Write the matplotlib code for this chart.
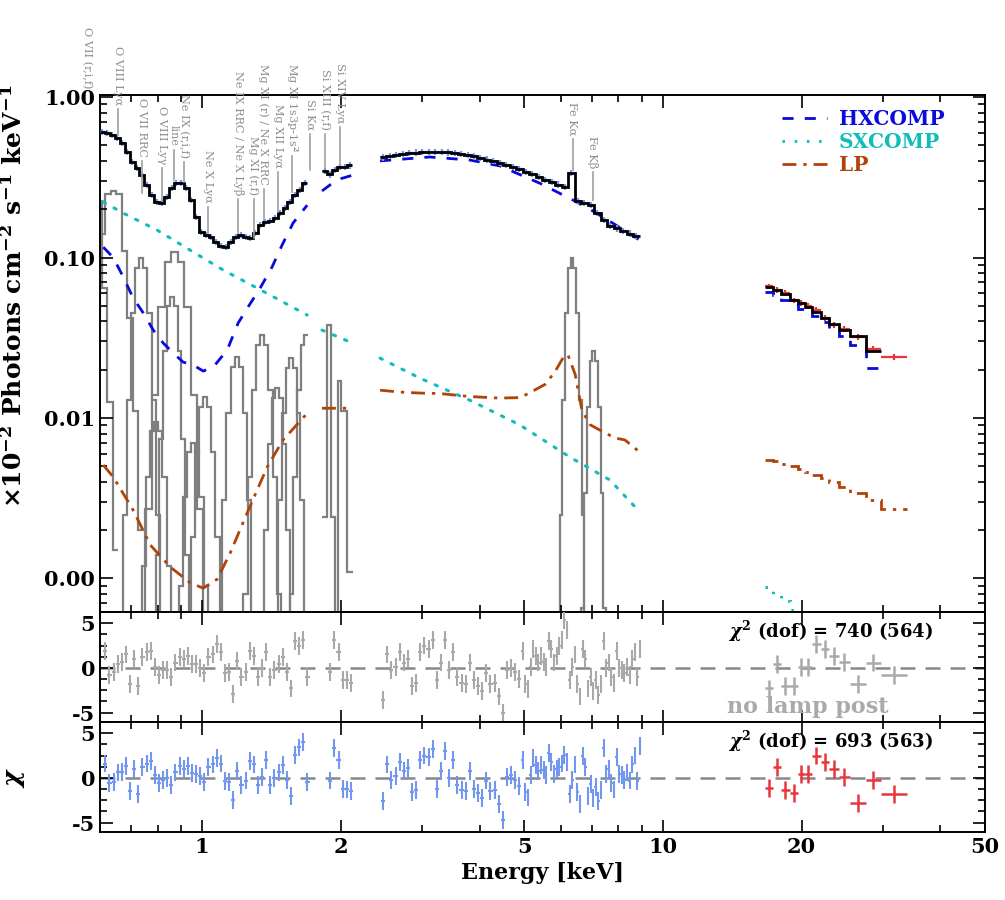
import numpy as np
import matplotlib.pyplot as plt
import matplotlib.transforms as mtransforms
from matplotlib.lines import Line2D
from matplotlib.ticker import (FixedLocator, FormatStrFormatter, LogLocator,
                               NullFormatter, MultipleLocator)

plt.rcParams['font.family'] = 'DejaVu Serif'
plt.rcParams['font.weight'] = 'bold'
plt.rcParams['axes.labelweight'] = 'bold'
plt.rcParams['mathtext.fontset'] = 'custom'
plt.rcParams['mathtext.rm'] = 'DejaVu Serif:bold'
plt.rcParams['mathtext.it'] = 'DejaVu Serif:italic:bold'
plt.rcParams['mathtext.bf'] = 'DejaVu Serif:bold'
plt.rcParams['axes.unicode_minus'] = False
plt.rcParams['axes.linewidth'] = 1.4

nan = np.nan

# --- total model (black histogram), keV bins
soft_edges = np.geomspace(0.6, 1.69, 43)
soft_model = [0.605, 0.597, 0.580, 0.556, 0.517, 0.454, 0.394, 0.361, 0.327, 0.283,
              0.245, 0.222, 0.219, 0.238, 0.271, 0.291, 0.291, 0.271, 0.228, 0.179,
              0.144, 0.138, 0.134, 0.125, 0.118, 0.116, 0.125, 0.134, 0.138, 0.134,
              0.132, 0.142, 0.159, 0.166, 0.169, 0.176, 0.189, 0.203, 0.222, 0.245,
              0.263, 0.291]
si_edges = np.geomspace(1.82, 2.115, 7)
si_model = [0.345, 0.330, 0.350, 0.366, 0.366, 0.375]
fe_edges = np.geomspace(2.43, 8.9, 41)
fe_model = [0.420, 0.428, 0.435, 0.442, 0.447, 0.451, 0.454, 0.456, 0.456, 0.455,
            0.452, 0.448, 0.442, 0.435, 0.427, 0.418, 0.408, 0.398, 0.388, 0.377,
            0.366, 0.355, 0.343, 0.331, 0.318, 0.305, 0.297, 0.285, 0.275, 0.336,
            0.225, 0.218, 0.212, 0.190, 0.172, 0.158, 0.152, 0.146, 0.141, 0.136]
hard_edges = [16.64, 17.32, 18.03, 18.86, 19.63, 20.32, 21.05, 22.01, 22.91, 24.09,
              25.45, 27.56, 29.71, 33.83]
hard_model = [0.0655, 0.0627, 0.059, 0.0545, 0.052, 0.049, 0.0458, 0.042, 0.0385,
              0.0353, 0.0323, 0.0263]
hard_data = [0.066, 0.063, 0.060, 0.054, 0.052, 0.050, 0.047, 0.042, 0.038, 0.036,
             0.032, 0.027, 0.024]

# --- model components
hx_e = [0.61, 0.641, 0.674, 0.708, 0.745, 0.783, 0.823, 0.865, 0.909, 0.956, 1.005,
        1.056, 1.133, 1.197, 1.258, 1.336, 1.418, 1.491, 1.575, 1.69, nan,
        1.82, 1.9, 2.0, 2.115, nan,
        2.433, 3.12, 3.81, 4.43, 5.41, 6.38, 6.94, 7.75, 8.92]
hx_v = [0.116, 0.100, 0.0756, 0.056, 0.0451, 0.0353, 0.0293, 0.0254, 0.0223, 0.0214,
        0.0196, 0.0207, 0.0265, 0.0391, 0.0492, 0.0645, 0.0873, 0.1197, 0.164, 0.212, nan,
        0.26, 0.285, 0.31, 0.325, nan,
        0.40, 0.423, 0.405, 0.372, 0.29, 0.228, 0.20, 0.165, 0.128]
hx_hard = [0.061, 0.058, 0.0545, 0.0506, 0.048, 0.0458, 0.043, 0.0397, 0.0365,
           0.0323, 0.0285, 0.0206]

sx_e = [0.61, 0.674, 0.799, 0.942, 1.11, 1.316, 1.69, nan, 1.82, 2.115, nan,
        2.433, 2.97, 3.81, 4.90, 6.28, 7.67, 8.83]
sx_v = [0.222, 0.189, 0.148, 0.111, 0.0836, 0.0645, 0.0438, nan, 0.0353, 0.0294, nan,
        0.0236, 0.0177, 0.0129, 0.00903, 0.00571, 0.00411, 0.00267]
sx_hard = [0.00088, 0.0008, 0.00072, 0.00064, 0.00057, 0.00052, 0.00047, 0.00042,
           0.00037, 0.00032, 0.00027, 0.00022, 0.00017]

lp_e = [0.61, 0.641, 0.708, 0.771, 0.852, 0.942, 1.005, 1.078, 1.15, 1.252, 1.384,
        1.498, 1.69, nan, 1.82, 2.115, nan,
        2.433, 2.69, 2.97, 3.28, 3.81, 4.43, 4.90, 5.15, 5.55, 5.83, 6.07, 6.22,
        6.45, 6.67, 6.94, 7.30, 7.87, 8.27, 8.92]
lp_v = [0.00509, 0.00429, 0.00267, 0.00162, 0.00118, 0.00094, 0.00087, 0.00099,
        0.00144, 0.00256, 0.00495, 0.0073, 0.0107, nan, 0.0115, 0.0115, nan,
        0.0149, 0.0145, 0.0143, 0.0142, 0.0136, 0.0133, 0.0134, 0.0144, 0.0162,
        0.0194, 0.0237, 0.0248, 0.0187, 0.0112, 0.0091, 0.0084, 0.0075, 0.0073, 0.0061]
lp_hard = [0.0055, 0.0054, 0.0052, 0.0050, 0.0048, 0.0046, 0.0044, 0.0042, 0.0040,
           0.0037, 0.0034, 0.0031, 0.0027]

# --- individual emission lines (grey histograms): start energy, bin width (dex), values
gl_lo = [0.485, 0.551, 0.658, 0.709, 0.729, 0.778, 0.853, 0.905, 1.061, 1.204,
         1.315, 1.410, 1.519, 5.885, 6.56]
gl_w = [0.012, 0.012, 0.009, 0.009, 0.014, 0.008, 0.009, 0.009, 0.009, 0.009,
        0.008, 0.008, 0.008, 0.006, 0.006]
gl_vals = [
    [0.0015, 0.0125, 0.065, 0.225, 0.435, 0.5, 0.435, 0.225, 0.065, 0.0125, 0.0015],
    [0.002, 0.011, 0.042, 0.14, 0.25, 0.26, 0.25, 0.11, 0.042, 0.011, 0.002],
    [0.0003, 0.0025, 0.013, 0.045, 0.086, 0.099, 0.086, 0.045, 0.013, 0.0025, 0.0003],
    [0.00003, 0.00024, 0.0012, 0.0043, 0.0083, 0.0095, 0.0083, 0.0043, 0.0012, 0.00024, 0.00003],
    [0.0003, 0.0027, 0.014, 0.049, 0.094, 0.108, 0.094, 0.049, 0.014, 0.0027, 0.0003],
    [0.00017, 0.0014, 0.0074, 0.026, 0.05, 0.057, 0.05, 0.026, 0.0074, 0.0014, 0.00017],
    [0.00002, 0.00018, 0.0009, 0.0032, 0.0061, 0.007, 0.0061, 0.0032, 0.0009, 0.00018, 0.00002],
    [0.00004, 0.00034, 0.0018, 0.0061, 0.0117, 0.0135, 0.0117, 0.0061, 0.0018, 0.00034, 0.00004],
    [0.00007, 0.0006, 0.0031, 0.0108, 0.0209, 0.024, 0.0209, 0.0108, 0.0031, 0.0006, 0.00007],
    [0.0001, 0.0008, 0.0043, 0.0149, 0.0287, 0.033, 0.0287, 0.0149, 0.0043, 0.0008, 0.0001],
    [0.00005, 0.00039, 0.002, 0.0069, 0.0134, 0.0154, 0.0134, 0.0069, 0.002, 0.00039, 0.00005],
    [0.00007, 0.0006, 0.0031, 0.0107, 0.0206, 0.0237, 0.0206, 0.0107, 0.0031, 0.0006, 0.00007],
    [0.0001, 0.0008, 0.0043, 0.0149, 0.0287, 0.033],
    [0.0003, 0.0025, 0.013, 0.045, 0.086, 0.099, 0.086, 0.045, 0.013, 0.0025, 0.0003],
    [0.00008, 0.00065, 0.0034, 0.0117, 0.0226, 0.026, 0.0226, 0.0117, 0.0034, 0.00065, 0.00008],
]
si_line_edges = [1.82, 1.867, 1.906, 1.944, 1.973, 2.003, 2.063, 2.126]
si_line_vals = [0.0024, 0.038, 0.0024, 0.0005, 0.017, 0.011, 0.0011]

# --- line identifications
id_e = [0.563, 0.657, 0.741, 0.816, 0.867, 0.912, 1.030, 1.197, 1.293, 1.360,
        1.462, 1.567, 1.715, 1.848, 1.993, 6.37, 7.05]
id_txt = ['O VII (r,i,f)', 'O VIII Lyα', 'O VII RRC', 'O VIII Lyγ', 'line',
          'Ne IX (r,i,f)', 'Ne X Lyα', 'Ne IX RRC / Ne X Lyβ', 'Mg XI (r,f)',
          'Mg XI (r) / Ne X RRC', 'Mg XII Lyα', r'Mg XI 1s3p-1s$^2$', 'Si Kα',
          'Si XIII (r,f)', 'Si XIV Lyα', 'Fe Kα', 'Fe Kβ']
# layout: text bottom and tick-line end, axes fraction
id_y0 = [1.0135, 0.981, 0.880, 0.8665, 0.9014, 0.878, 0.791, 0.8066, 0.8066, 0.826,
         0.859, 0.8897, 0.9323, 0.9323, 0.946, 0.9226, 0.859]
id_y1 = [nan, 0.9226, 0.8104, 0.797, 0.8356, 0.8317, 0.733, 0.733, 0.7234, 0.758,
         0.7737, 0.8124, 0.855, 0.859, 0.865, 0.855, 0.797]

# --- residuals (chi)
res_soft_edges = np.geomspace(0.61, 1.71, 51)
res_si_edges = np.geomspace(1.876, 2.126, 7)
res_fea_edges = np.geomspace(2.445, 4.93, 35)
res_feb_edges = np.geomspace(4.93, 8.98, 47)

nolp_soft = [1.9, -0.8, -0.5, 0.4, 0.7, 1.5, -1.8, 1.0, -2.0, 1.2, 1.8, 1.9, 0.1, -0.8,
             -0.2, -0.2, -1.0, 0.6, 1.2, 1.0, 1.3, 0.4, 0.4, 0.0, -0.6, 1.2, 1.5, 2.7,
             1.8, -0.6, -0.5, -2.9, 0.8, -1.0, -0.5, 1.9, 1.3, -1.0, 0.0, 1.8, -1.0,
             -0.2, 0.4, 1.2, -0.5, -2.3, 3.0, 2.4, 3.1, -1.0]
nolp_si = [-0.5, 3.1, 1.8, -1.4, -1.4, -1.7]
nolp_fea = [-3.6, 1.5, -0.2, 0.1, 1.8, 0.6, 1.0, -2.0, -1.7, 1.8, 2.5, 2.1, 3.1, -1.4,
            0.6, 3.1, -0.2, 1.8, -1.0, -1.7, -1.8, 0.6, -1.4, -2.0, -2.6, -0.6, -1.8,
            -1.7, -3.2, -5.0, -0.2, 0.0, -0.5, -1.2]
nolp_feb = [1.9, -1.8, -2.4, 0.1, 2.1, 1.3, 0.6, 1.3, 0.7, 0.1, 3.0, 2.1, 0.6, 1.3,
            2.4, 3.1, 5.4, 4.2, -1.4, 0.1, 1.5, -1.8, -3.2, 2.1, 1.0, -2.3, -1.0, -2.6,
            -1.4, -3.0, -1.8, 3.0, 0.0, 0.6, -1.0, -1.7, 1.9, 0.0, -0.2, -0.6, 0.1,
            -0.8, 1.0, 1.8, -1.0, 2.1]
nolp_hard = [-2.3, 0.4, -2.0, -2.0, 0.1, 0.1, 2.7, 2.1, 1.3, 0.7, -1.8, 0.6, -0.8]

lp_soft_res = [1.6, -0.6, -0.5, 0.6, 0.7, 1.3, -1.5, 1.0, -1.8, 1.2, 1.6, 1.9, 0.3, -0.6,
               -0.2, 0.0, -0.8, 0.6, 1.3, 1.0, 1.3, 0.5, 0.4, 0.2, -0.5, 1.2, 1.5, 2.2,
               1.6, -0.4, -0.5, -2.5, 0.8, -0.8, -0.3, 1.9, 1.5, -0.8, 0.1, 2.0, -0.8,
               0.0, 0.6, 1.4, -0.2, -2.0, 2.6, 3.4, 4.0, -0.5]
lp_si_res = [-0.3, 3.3, 2.0, -1.2, -1.3, -1.5]
lp_fea_res = [-2.6, 1.5, -0.2, 0.2, 1.8, 0.8, 1.1, -1.6, -1.4, 2.0, 2.5, 2.3, 3.2, -1.2,
              0.8, 3.0, 0.0, 2.0, -0.8, -1.4, -1.5, 0.8, -1.2, -1.7, -2.3, -0.3, -1.5,
              -1.4, -2.9, -4.7, 0.1, 0.3, -0.2, -0.9]
lp_feb_res = [2.0, -1.6, -2.2, 0.3, 2.2, 1.4, 0.8, 1.4, 0.9, 0.3, 2.8, 1.8, 0.4, 1.0,
              1.2, 1.6, 2.6, 1.8, -1.8, -0.2, 1.5, -1.6, -2.9, 2.4, 1.2, -2.0, -0.7,
              -2.3, -1.0, -2.6, -1.4, 3.3, 0.4, 1.0, -0.6, -1.3, 2.3, 0.4, 0.3, -0.2,
              0.6, -0.3, 1.5, 2.5, -0.4, 3.6]
lp_hard_res = [-1.1, 1.2, -1.4, -1.7, 0.4, 0.4, 2.5, 1.8, 1.0, 0.1, -2.8, -0.2, -1.8]

# colours
c_hx = '#0a0adc'
c_sx = '#10bcbc'
c_lp = '#b04408'
c_data = '#7396ee'
c_red = '#e8363c'
c_line = '#7f7f7f'
c_lab = '#8c8c8c'
c_nolp = '#a9a9a9'


def crosses(ax, edges, vals, color, yerr, lw=1.5, z=3):
    e = np.asarray(edges, dtype=float)
    v = np.asarray(vals, dtype=float)
    n = len(v)
    c = np.sqrt(e[:n] * e[1:n + 1])
    ax.errorbar(c, v, xerr=[c - e[:n], e[1:n + 1] - c], yerr=yerr, fmt='none',
                ecolor=color, elinewidth=lw, capsize=0, zorder=z)


fig = plt.figure(figsize=(10.05, 9.0), dpi=100)
ax = fig.add_axes([0.0995, 0.32, 0.8805, 0.5744])
ax2 = fig.add_axes([0.0995, 0.1978, 0.8805, 0.1222], sharex=ax)
ax3 = fig.add_axes([0.0995, 0.0756, 0.8805, 0.1222], sharex=ax)

# ---- top panel
ax.set_xscale('log')
ax.set_yscale('log')

for lo, w, v in zip(gl_lo, gl_w, gl_vals):
    edges = lo * 10 ** (w * np.arange(len(v) + 1))
    ax.stairs(v, edges, baseline=None, color=c_line, lw=1.6, zorder=1)
ax.stairs(si_line_vals, si_line_edges, baseline=None, color=c_line, lw=1.6, zorder=1)

ax.plot(hx_e, hx_v, color=c_hx, lw=2, dashes=(4, 4), zorder=2)
ax.stairs(hx_hard, hard_edges[:13], baseline=None, color=c_hx, lw=2,
          linestyle=(0, (4, 4)), zorder=2)
ax.plot(sx_e, sx_v, color=c_sx, lw=2.2, linestyle=(0, (0.8, 3.2)),
        dash_capstyle='round', zorder=2)
ax.stairs(sx_hard, hard_edges, baseline=None, color=c_sx, lw=2.2,
          linestyle=(0, (0.8, 3.2)), zorder=2)
ax.plot(lp_e, lp_v, color=c_lp, lw=2, linestyle=(0, (5, 2.5, 1.2, 2.5)), zorder=2)
ax.stairs(lp_hard, hard_edges, baseline=None, color=c_lp, lw=2,
          linestyle=(0, (5, 2.5, 1.2, 2.5)), zorder=2)

for ed, md in [(soft_edges, soft_model), (si_edges, si_model), (fe_edges, fe_model)]:
    crosses(ax, ed, md, c_data, 0.045 * np.asarray(md), lw=1.6)
crosses(ax, hard_edges, hard_data, c_red, 0.04 * np.asarray(hard_data), lw=1.6)

for ed, md in [(soft_edges, soft_model), (si_edges, si_model), (fe_edges, fe_model),
               (hard_edges[:13], hard_model)]:
    ax.stairs(md, ed, baseline=None, color='black', lw=2, zorder=4)

ax.set_xlim(0.6, 50)
ax.set_ylim(0.000618, 1.029)
ax.yaxis.set_major_locator(FixedLocator([0.001, 0.01, 0.1, 1.0]))
ax.yaxis.set_major_formatter(FormatStrFormatter('%.2f'))
ax.yaxis.set_minor_locator(LogLocator(base=10, subs=np.arange(2, 10)))
ax.yaxis.set_minor_formatter(NullFormatter())
ax.set_ylabel(r'$\times$10$^{-2}$ Photons cm$^{-2}$ s$^{-1}$ keV$^{-1}$', fontsize=18)
ax.yaxis.set_label_coords(-0.083, 0.61)

trans = mtransforms.blended_transform_factory(ax.transData, ax.transAxes)
for e, t, y0, y1 in zip(id_e, id_txt, id_y0, id_y1):
    ax.text(e, y0, t, rotation=270, ha='center', va='bottom', transform=trans,
            color=c_lab, fontsize=8.1, fontweight='normal')
    if not np.isnan(y1):
        ax.plot([e, e], [y0 - 0.008, y1], transform=trans, color='#a0a0a0', lw=1.2,
                clip_on=False, zorder=5)

handles = [Line2D([], [], color=c_hx, lw=2, dashes=(4, 4)),
           Line2D([], [], color=c_sx, lw=2.2, linestyle=(0, (0.8, 3.2))),
           Line2D([], [], color=c_lp, lw=2, linestyle=(0, (5, 2.5, 1.2, 2.5)))]
ax.legend(handles, ['HXCOMP', 'SXCOMP', 'LP'], loc='upper right', frameon=False,
          fontsize=14.5, labelcolor=[c_hx, c_sx, c_lp], handlelength=2.2,
          handletextpad=0.6, borderaxespad=0.3, labelspacing=0.15,
          bbox_to_anchor=(0.97, 1.0))

# ---- residual panels
res_sets = [
    (ax2, [nolp_soft, nolp_si, nolp_fea, nolp_feb], nolp_hard, c_nolp, c_nolp),
    (ax3, [lp_soft_res, lp_si_res, lp_fea_res, lp_feb_res], lp_hard_res, c_data, c_red),
]
for a, lows, hard, col, hcol in res_sets:
    for ed, r in zip([res_soft_edges, res_si_edges, res_fea_edges, res_feb_edges], lows):
        crosses(a, ed, r, col, 1.0, lw=1.5)
    crosses(a, hard_edges, hard, hcol, 1.0, lw=1.8)
    a.axhline(0, color='#888888', lw=1.8, dashes=(6, 4), zorder=1)
    a.set_ylim(-6.05, 6.25)
    a.yaxis.set_major_locator(FixedLocator([-5, 0, 5]))
    a.yaxis.set_major_formatter(FormatStrFormatter('%d'))
    a.yaxis.set_minor_locator(MultipleLocator(1.25))

ax2.text(0.825, 0.82, r'$\chi^2$ (dof) = 740 (564)', transform=ax2.transAxes,
         ha='center', va='center', fontsize=13)
ax2.text(0.80, 0.14, 'no lamp post', transform=ax2.transAxes, ha='center',
         va='center', fontsize=16, color='#aaaaaa')
ax3.text(0.825, 0.82, r'$\chi^2$ (dof) = 693 (563)', transform=ax3.transAxes,
         ha='center', va='center', fontsize=13)
ax3.set_ylabel(r'$\chi$', fontsize=18)
ax3.yaxis.set_label_coords(-0.082, 0.5)

ax3.xaxis.set_major_locator(FixedLocator([1, 2, 5, 10, 20, 50]))
ax3.xaxis.set_major_formatter(FormatStrFormatter('%g'))
ax3.xaxis.set_minor_locator(LogLocator(base=10, subs=np.arange(2, 10)))
ax3.xaxis.set_minor_formatter(NullFormatter())
ax3.set_xlabel('Energy [keV]', fontsize=16)

for a in (ax, ax2, ax3):
    a.tick_params(which='both', direction='in', top=True, right=True, labelsize=15,
                  width=1.2)
    a.tick_params(which='major', length=9)
    a.tick_params(which='minor', length=5)
ax.tick_params(labelbottom=False)
ax2.tick_params(labelbottom=False)

fig.savefig('out.png', dpi=100)
